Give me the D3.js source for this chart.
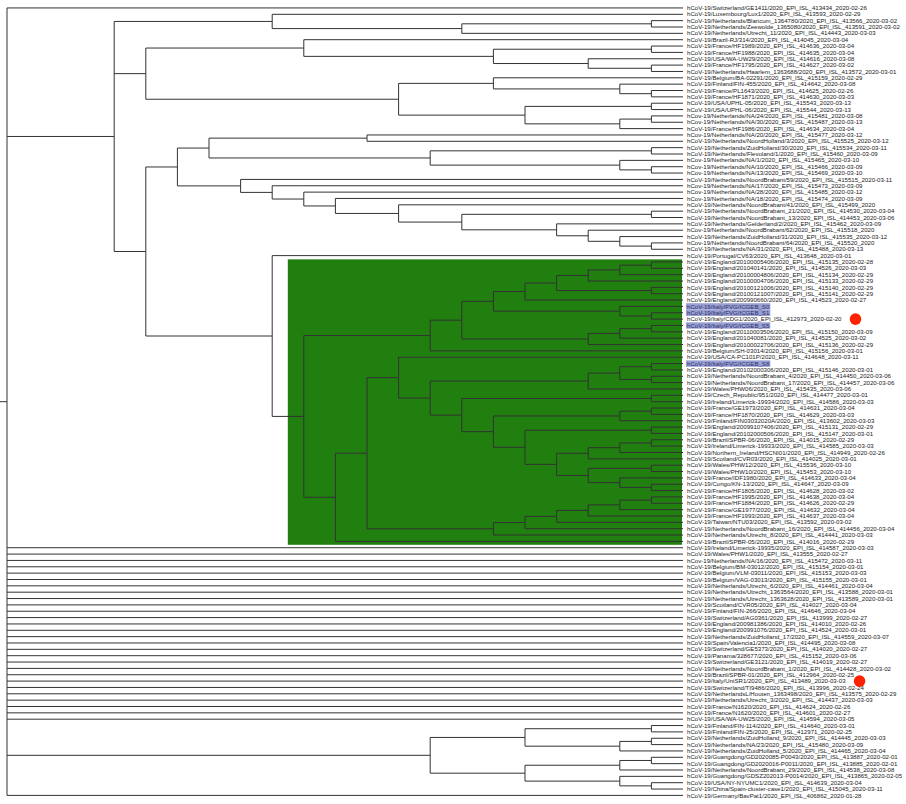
<!DOCTYPE html>
<html><head><meta charset="utf-8">
<script src="https://cdn.jsdelivr.net/npm/d3@7"></script>
<style>body{margin:0;background:#fff}svg{display:block}</style>
</head><body><svg id="c" width="906" height="804"></svg>
<script>
const leafNames = [
"hCoV-19/Switzerland/GE1411/2020_EPI_ISL_413434_2020-02-26",
"hCoV-19/Luxembourg/Lux1/2020_EPI_ISL_413593_2020-02-29",
"hCoV-19/Netherlands/Blaricum_1364780/2020_EPI_ISL_413566_2020-03-02",
"hCoV-19/Netherlands/Zeewolde_1365080/2020_EPI_ISL_413591_2020-03-02",
"hCoV-19/Netherlands/Utrecht_11/2020_EPI_ISL_414443_2020-03-03",
"hCoV-19/Brazil-RJ/314/2020_EPI_ISL_414045_2020-03-04",
"hCoV-19/France/HF1989/2020_EPI_ISL_414636_2020-03-04",
"hCoV-19/France/HF1988/2020_EPI_ISL_414635_2020-03-04",
"hCoV-19/USA/WA-UW29/2020_EPI_ISL_414616_2020-03-08",
"hCoV-19/France/HF1795/2020_EPI_ISL_414627_2020-03-02",
"hCoV-19/Netherlands/Haarlem_1363688/2020_EPI_ISL_413572_2020-03-01",
"hCoV-19/Belgium/BA-02291/2020_EPI_ISL_415159_2020-02-29",
"hCoV-19/Finland/FIN-455/2020_EPI_ISL_414642_2020-03-08",
"hCoV-19/France/PL1643/2020_EPI_ISL_414625_2020-02-26",
"hCoV-19/France/HF1871/2020_EPI_ISL_414630_2020-03-03",
"hCoV-19/USA/UPHL-05/2020_EPI_ISL_415543_2020-03-13",
"hCoV-19/USA/UPHL-06/2020_EPI_ISL_415544_2020-03-13",
"hCov-19/Netherlands/NA/24/2020_EPI_ISL_415481_2020-03-08",
"hCov-19/Netherlands/NA/30/2020_EPI_ISL_415487_2020-03-13",
"hCoV-19/France/HF1986/2020_EPI_ISL_414634_2020-03-04",
"hCov-19/Netherlands/NA/20/2020_EPI_ISL_415477_2020-03-12",
"hCoV-19/Netherlands/NoordHolland/3/2020_EPI_ISL_415525_2020-03-12",
"hCoV-19/Netherlands/ZuidHolland/30/2020_EPI_ISL_415534_2020-03-11",
"hCoV-19/Netherlands/Flevoland/1/2020_EPI_ISL_415460_2020-03-09",
"hCov-19/Netherlands/NA/1/2020_EPI_ISL_415465_2020-03-10",
"hCov-19/Netherlands/NA/10/2020_EPI_ISL_415466_2020-03-09",
"hCov-19/Netherlands/NA/13/2020_EPI_ISL_415469_2020-03-10",
"hCoV-19/Netherlands/NoordBrabant/59/2020_EPI_ISL_415515_2020-03-11",
"hCov-19/Netherlands/NA/17/2020_EPI_ISL_415473_2020-03-09",
"hCov-19/Netherlands/NA/28/2020_EPI_ISL_415485_2020-03-12",
"hCov-19/Netherlands/NA/18/2020_EPI_ISL_415474_2020-03-09",
"hCoV-19/Netherlands/NoordBrabant/41/2020_EPI_ISL_415499_2020",
"hCoV-19/Netherlands/NoordBrabant_21/2020_EPI_ISL_414530_2020-03-04",
"hCoV-19/Netherlands/NoordBrabant_13/2020_EPI_ISL_414453_2020-03-06",
"hCoV-19/Netherlands/Gelderland/2/2020_EPI_ISL_415462_2020-03-09",
"hCov-19/Netherlands/NoordBrabant/62/2020_EPI_ISL_415518_2020",
"hCoV-19/Netherlands/ZuidHolland/31/2020_EPI_ISL_415535_2020-03-12",
"hCov-19/Netherlands/NoordBrabant/64/2020_EPI_ISL_415520_2020",
"hCoV-19/Netherlands/NA/31/2020_EPI_ISL_415488_2020-03-13",
"hCoV-19/Portugal/CV63/2020_EPI_ISL_413648_2020-03-01",
"hCoV-19/England/20100005406/2020_EPI_ISL_415135_2020-02-28",
"hCoV-19/England/201040141/2020_EPI_ISL_414526_2020-03-03",
"hCoV-19/England/20100004806/2020_EPI_ISL_415134_2020-02-29",
"hCoV-19/England/20100004706/2020_EPI_ISL_415133_2020-02-29",
"hCoV-19/England/20100121006/2020_EPI_ISL_415140_2020-02-29",
"hCoV-19/England/20100121007/2020_EPI_ISL_415141_2020-02-29",
"hCoV-19/England/200990660/2020_EPI_ISL_414523_2020-02-27",
"hCoV-19/Italy/FVG/ICGEB_S0",
"hCoV-19/Italy/FVG/ICGEB_S1",
"hCoV-19/Italy/CDG1/2020_EPI_ISL_412973_2020-02-20",
"hCoV-19/Italy/FVG/ICGEB_S5",
"hCoV-19/England/20110003506/2020_EPI_ISL_415150_2020-03-09",
"hCoV-19/England/201040081/2020_EPI_ISL_414525_2020-03-02",
"hCoV-19/England/20100022706/2020_EPI_ISL_415136_2020-02-29",
"hCoV-19/Belgium/SH-03014/2020_EPI_ISL_415156_2020-03-01",
"hCoV-19/USA/CA-PC101P/2020_EPI_ISL_414648_2020-03-11",
"hCoV-19/Italy/FVG/ICGEB_S8",
"hCoV-19/England/20102000306/2020_EPI_ISL_415146_2020-03-01",
"hCoV-19/Netherlands/NoordBrabant_4/2020_EPI_ISL_414450_2020-03-06",
"hCoV-19/Netherlands/NoordBrabant_17/2020_EPI_ISL_414457_2020-03-06",
"hCoV-19/Wales/PHW06/2020_EPI_ISL_415435_2020-03-06",
"hCoV-19/Czech_Republic/951/2020_EPI_ISL_414477_2020-03-01",
"hCoV-19/Ireland/Limerick-19934/2020_EPI_ISL_414586_2020-03-03",
"hCoV-19/France/GE1973/2020_EPI_ISL_414631_2020-03-04",
"hCoV-19/France/HF1870/2020_EPI_ISL_414629_2020-03-03",
"hCoV-19/Finland/FIN03032020A/2020_EPI_ISL_413602_2020-03-03",
"hCoV-19/England/20099107406/2020_EPI_ISL_415131_2020-02-29",
"hCoV-19/England/20102000506/2020_EPI_ISL_415147_2020-03-01",
"hCoV-19/Brazil/SPBR-06/2020_EPI_ISL_414015_2020-02-29",
"hCoV-19/Ireland/Limerick-19933/2020_EPI_ISL_414585_2020-03-03",
"hCoV-19/Northern_Ireland/HSCNI01/2020_EPI_ISL_414949_2020-02-26",
"hCoV-19/Scotland/CVR03/2020_EPI_ISL_414025_2020-03-01",
"hCoV-19/Wales/PHW12/2020_EPI_ISL_415536_2020-03-10",
"hCoV-19/Wales/PHW10/2020_EPI_ISL_415453_2020-03-10",
"hCoV-19/France/IDF1980/2020_EPI_ISL_414633_2020-03-04",
"hCoV-19/Congo/KN-13/2020_EPI_ISL_414647_2020-03-09",
"hCoV-19/France/HF1805/2020_EPI_ISL_414628_2020-03-02",
"hCoV-19/France/HF1995/2020_EPI_ISL_414638_2020-03-04",
"hCoV-19/France/HF1884/2020_EPI_ISL_414626_2020-02-29",
"hCoV-19/France/GE1977/2020_EPI_ISL_414632_2020-03-04",
"hCoV-19/France/HF1993/2020_EPI_ISL_414637_2020-03-04",
"hCoV-19/Taiwan/NTU03/2020_EPI_ISL_413592_2020-03-02",
"hCoV-19/Netherlands/NoordBrabant_16/2020_EPI_ISL_414456_2020-03-04",
"hCoV-19/Netherlands/Utrecht_8/2020_EPI_ISL_414441_2020-03-03",
"hCoV-19/Brazil/SPBR-05/2020_EPI_ISL_414016_2020-02-29",
"hCoV-19/Ireland/Limerick-19935/2020_EPI_ISL_414587_2020-03-03",
"hCoV-19/Wales/PHW1/2020_EPI_ISL_413555_2020-02-27",
"hCov-19/Netherlands/NA/16/2020_EPI_ISL_415472_2020-03-11",
"hCoV-19/Belgium/BM-03012/2020_EPI_ISL_415154_2020-03-01",
"hCoV-19/Belgium/VLM-03011/2020_EPI_ISL_415153_2020-03-03",
"hCoV-19/Belgium/VAG-03013/2020_EPI_ISL_415155_2020-03-01",
"hCoV-19/Netherlands/Utrecht_6/2020_EPI_ISL_414461_2020-03-04",
"hCoV-19/Netherlands/Utrecht_1363564/2020_EPI_ISL_413588_2020-03-01",
"hCoV-19/Netherlands/Utrecht_1363628/2020_EPI_ISL_413589_2020-03-01",
"hCoV-19/Scotland/CVR05/2020_EPI_ISL_414027_2020-03-04",
"hCoV-19/Finland/FIN-266/2020_EPI_ISL_414646_2020-03-04",
"hCoV-19/Switzerland/AG0361/2020_EPI_ISL_413999_2020-02-27",
"hCoV-19/England/200981386/2020_EPI_ISL_414010_2020-02-26",
"hCoV-19/England/200991076/2020_EPI_ISL_414524_2020-03-01",
"hCoV-19/Netherlands/ZuidHolland_17/2020_EPI_ISL_414559_2020-03-07",
"hCoV-19/Spain/Valencia1/2020_EPI_ISL_414495_2020-03-08",
"hCoV-19/Switzerland/GE5373/2020_EPI_ISL_414020_2020-02-27",
"hCoV-19/Panama/328677/2020_EPI_ISL_415152_2020-03-06",
"hCoV-19/Switzerland/GE3121/2020_EPI_ISL_414019_2020-02-27",
"hCoV-19/Netherlands/NoordBrabant_1/2020_EPI_ISL_414428_2020-03-02",
"hCoV-19/Brazil/SPBR-01/2020_EPI_ISL_412964_2020-02-25",
"hCoV-19/Italy/UniSR1/2020_EPI_ISL_413489_2020-03-03",
"hCoV-19/Switzerland/TI9486/2020_EPI_ISL_413996_2020-02-24",
"hCoV-19/NetherlandsL/Houten_1363498/2020_EPI_ISL_413575_2020-02-29",
"hCoV-19/Netherlands/Utrecht_3/2020_EPI_ISL_414437_2020-03-03",
"hCoV-19/France/N1620/2020_EPI_ISL_414624_2020-02-26",
"hCoV-19/France/N1620/2020_EPI_ISL_414601_2020-02-27",
"hCoV-19/USA/WA-UW25/2020_EPI_ISL_414594_2020-03-05",
"hCoV-19/Finland/FIN-114/2020_EPI_ISL_414640_2020-03-01",
"hCoV-19/Finland/FIN-25/2020_EPI_ISL_412971_2020-02-25",
"hCoV-19/Netherlands/ZuidHolland_9/2020_EPI_ISL_414445_2020-03-03",
"hCoV-19/Netherlands/NA/23/2020_EPI_ISL_415480_2020-03-09",
"hCoV-19/Netherlands/ZuidHolland_5/2020_EPI_ISL_414465_2020-03-04",
"hCoV-19/Guangdong/GD2020085-P0043/2020_EPI_ISL_413887_2020-02-01",
"hCoV-19/Guangdong/GD2020016-P0011/2020_EPI_ISL_413885_2020-02-01",
"hCoV-19/Netherlands/NoordBrabant_29/2020_EPI_ISL_414538_2020-03-08",
"hCoV-19/Guangdong/GDSZ202013-P0014/2020_EPI_ISL_413865_2020-02-05",
"hCoV-19/USA/NY-NYUMC1/2020_EPI_ISL_414639_2020-03-04",
"hCoV-19/China/Spain-cluster-case1/2020_EPI_ISL_415045_2020-03-11",
"hCoV-19/Germany/BavPat1/2020_EPI_ISL_406862_2020-01-28"
];
const highlightedLeaves = [48, 49, 51, 57];
const markedLeaves = [50, 107];
const cladeRange = [41, 85];

// ---- topology: Newick over 1-based leaf numbers; "hN" after ")" = estimated node level ----
const sA923 = "(((41,42),43),44)";
const sA735 = "((" + sA923 + ",(45,46)),47)";
const sA1a = "(" + sA735 + ",(48,(49,50)))";
const sA1 = "(" + sA1a + ",(((51,52),53),54))";
const cladeA = "(" + sA1 + ",55)";
const sP = "((((69,70),71),72),((73,74),(75,(76,77))))";
const sK = "(((64,65),66),((67,68)," + sP + "))";
const sH = "((((57,58),(59,60)),61),((62,63)," + sK + "))";
const sF = "((((((78,79),80),81),82),83),84)";
const cladeC = "(((56," + sH + ")," + sF + "),85)";
const cladeG = "(" + cladeA + "," + cladeC + ")";

const topA = "(2,((3,4),5)h7)h13";
const topF1 = "(6,((7,8),(9,(10,11))h3)h6)h12";
const topF2 = "((12,(13,(14,15)))h6,((16,17),((18,19),20))h5)h9";
const topF = "(" + topF1 + "," + topF2 + ")h17";
const nlA = "((21,22)h10,((23,24),(25,(26,27)))h8)h15";
const nlB = "(28,(29,(30,(31,(32,((33,34),(35,(36,(37,(38,39)))))h7)h9)h11)h12)h13)h14";
const nl = "(" + nlA + "," + nlB + ")h16";
const midClade = "(" + nl + ",(40," + cladeG + ")h13)h17";
const upper = "(" + topA + "," + topF + "," + midClade + ")h18";
const bottom = "(((114,115),((116,117),118))h5,(((119,120),121),(122,(123,124)))h5)h8";
const rootLeaves = "86,87,88,89,90,91,92,93,94,95,96,97,98,99,100,101,102,103,104,105,106,107,108,109,110,111,112,113";
const topology = "(1," + upper + "," + rootLeaves + "," + bottom + ",125)";

function parseNewick(s) {
  let i = 0;
  function node() {
    if (s[i] === "(") {
      i++;
      const ch = [node()];
      while (s[i] === ",") { i++; ch.push(node()); }
      i++;
      const o = { children: ch };
      if (s[i] === "h") {
        i++; let t = "";
        while (i < s.length && /[0-9.]/.test(s[i])) t += s[i++];
        o.level = +t;
      }
      return o;
    }
    let t = "";
    while (i < s.length && /[0-9]/.test(s[i])) t += s[i++];
    return { leaf: +t };
  }
  return node();
}

const svg = d3.select("#c");
const root = d3.hierarchy(parseNewick(topology));
const y = d3.scaleLinear().domain([1, 125]).range([7.95, 795.4]);
const x = d3.scaleLinear().domain([0, 1]).range([683, 651.4]);

root.eachAfter(n => {
  if (!n.children) n.py = y(n.data.leaf);
  else n.py = (n.children[0].py + n.children[n.children.length - 1].py) / 2;
  const lv = n.data.level !== undefined ? n.data.level : n.height;
  n.px = n.children ? x(lv) : x(0);
});
root.px = 7;

// green clade box
const cl = root.descendants().find(n => n.children &&
  d3.min(n.leaves(), l => l.data.leaf) === cladeRange[0] &&
  d3.max(n.leaves(), l => l.data.leaf) === cladeRange[1]);
if (cl) {
  const x0 = cl.px - 16;
  svg.append("rect")
    .attr("x", x0).attr("y", y(cladeRange[0]) - 2.6)
    .attr("width", x(0) - 1 - x0)
    .attr("height", y(cladeRange[1]) - y(cladeRange[0]) + 6)
    .attr("fill", "#217f10");
}

const g = svg.append("g").attr("stroke", "#333").attr("stroke-width", 1).attr("fill", "none");
root.each(n => {
  if (n.children) {
    const ys = n.children.map(c => c.py);
    g.append("line").attr("x1", n.px).attr("x2", n.px).attr("y1", d3.min(ys)).attr("y2", d3.max(ys));
    n.children.forEach(c => {
      g.append("line").attr("x1", n.px).attr("x2", c.px).attr("y1", c.py).attr("y2", c.py);
    });
  }
});
g.append("line").attr("x1", 0).attr("x2", root.px).attr("y1", root.py).attr("y2", root.py);

const lab = svg.append("g").attr("font-family", "'Liberation Sans', Arial, sans-serif").attr("font-size", 6.1);
leafNames.forEach((nm, i) => {
  const idx = i + 1;
  const hl = highlightedLeaves.includes(idx);
  const t = lab.append("text").attr("x", 687).attr("y", y(idx)).attr("dy", "0.35em")
    .attr("fill", hl ? "#26306a" : "#222").text(nm);
  if (hl) {
    const w = t.node().getComputedTextLength();
    lab.insert("rect", "text").attr("x", 686).attr("y", y(idx) - 3.2).attr("width", w + 2).attr("height", 6.4).attr("fill", "#9a9fd3");
  }
  if (markedLeaves.includes(idx)) {
    const w = t.node().getComputedTextLength();
    svg.append("circle").attr("cx", 687 + w + 14).attr("cy", y(idx)).attr("r", 5.8).attr("fill", "#ff2200");
  }
});
</script></body></html>
